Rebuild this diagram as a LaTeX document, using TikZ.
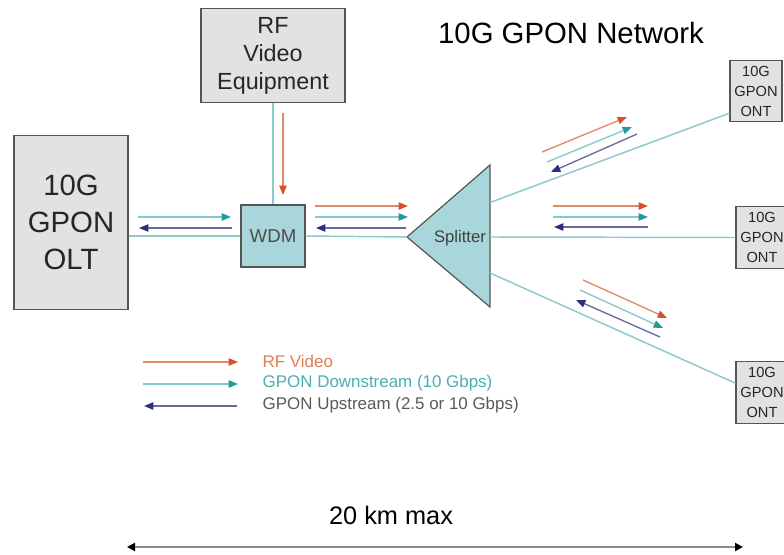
\documentclass[tikz,border=0pt]{standalone}
\usepackage{fontspec}
\setmainfont{Liberation Sans}
\usetikzlibrary{arrows.meta,positioning,calc}

\definecolor{boxgray}{HTML}{E2E2E2}
\definecolor{boxline}{HTML}{555555}
\definecolor{fibre}{HTML}{8CCACE}
\definecolor{wdmfill}{HTML}{A9D6DA}
\definecolor{rfline}{HTML}{E08A6A}
\definecolor{rfhead}{HTML}{D8502A}
\definecolor{dnline}{HTML}{86C9C9}
\definecolor{dnhead}{HTML}{1E9C9C}
\definecolor{upline}{HTML}{6A6AA2}
\definecolor{uphead}{HTML}{2E2E80}
\definecolor{rftext}{HTML}{E07E55}
\definecolor{dntext}{HTML}{4AAEB2}
\definecolor{uptext}{HTML}{5A5A5A}

\begin{document}
\begin{tikzpicture}[x=0.75pt,y=-0.75pt,
  box/.style={draw=boxline,line width=0.9pt,fill=boxgray,inner sep=0pt,
    align=center,text=black!85},
  fiber/.style={draw=fibre,line width=1.1pt},
  rfarrow/.style={draw=rfline,line width=1pt,-{Triangle[length=7pt,width=5.5pt,color=rfhead]}},
  dnarrow/.style={draw=dnline,line width=1pt,-{Triangle[length=7pt,width=5.5pt,color=dnhead]}},
  uparrow/.style={draw=upline,line width=1pt,-{Triangle[length=7pt,width=5.5pt,color=uphead]}},
  ont/.style={box,minimum width=39pt,minimum height=46pt,
    font=\fontsize{11}{15}\selectfont}]
  \useasboundingbox[fill=white] (0,0) rectangle (784,555);

  \node [box,minimum width=85.5pt,minimum height=131pt,
    font=\fontsize{22}{27.5}\selectfont]            (olt) at (71,222.5) {10G\\GPON\\OLT};
  \node [box,minimum width=108pt,minimum height=70pt,
    font=\fontsize{17.5}{21}\selectfont]            (rf)  at (273,55.5) {RF\\Video\\Equipment};
  \node [box,fill=wdmfill,minimum width=48pt,minimum height=46.5pt,
    font=\fontsize{14}{16}\selectfont,text=black!70] (wdm) at (273,236) {WDM};

  % splitter
  \coordinate (sptip) at (407,237);
  \coordinate (sptop) at (490,165);
  \coordinate (spbot) at (490,307);
  \draw [draw=boxline,line width=0.9pt,fill=wdmfill] (sptip) -- (sptop) -- (spbot) -- cycle;
  \node [font=\fontsize{12.5}{14}\selectfont,text=black!75] (spl) at (460,238) {Splitter};

  \node [ont] (ont1) at (756,91)    {10G\\GPON\\ONT};
  \node [ont] (ont2) at (762,237.5) {10G\\GPON\\ONT};
  \node [ont] (ont3) at (762,392.5) {10G\\GPON\\ONT};

  \node [font=\fontsize{22}{26}\selectfont] (title) at (571,33) {10G GPON Network};

  % fibres
  \draw [fiber] (wdm.west) -- (wdm.west -| olt.east);
  \draw [fiber] (rf.south) -- (wdm.north);
  \draw [fiber] (wdm.east) -- (sptip);
  \draw [fiber] ($(sptop)!0.264!(spbot)$) -- ([yshift=6.75pt]ont1.south west);
  \draw [fiber] (spbot |- sptip) -- (ont2.west);
  \draw [fiber] ($(sptop)!0.76!(spbot)$) -- ([yshift=7pt]ont3.west);

  % signal directions
  \draw [rfarrow] (283,113) -- (283,195);
  \draw [dnarrow] (138,217) -- (231,217);
  \draw [uparrow] (232,228) -- (139,228);
  \draw [rfarrow] (315,206) -- (408,206);
  \draw [dnarrow] (315,217) -- (408,217);
  \draw [uparrow] (406,228) -- (316,228);

  \draw [rfarrow] (542,152) -- (627,117);
  \draw [dnarrow] (547,162) -- (632,127);
  \draw [uparrow] (637,134) -- (551,172);

  \draw [rfarrow] (553,206) -- (648,206);
  \draw [dnarrow] (553,217) -- (648,217);
  \draw [uparrow] (648,227) -- (554,227);

  \draw [rfarrow] (583,280) -- (667,318);
  \draw [dnarrow] (580,290) -- (663,328);
  \draw [uparrow] (660,337) -- (576,300);

  % legend
  \draw [rfarrow] (143,362) -- (238,362);
  \draw [dnarrow] (143,384) -- (238,384);
  \draw [uparrow] (237,406) -- (144,406);
  \node [anchor=west,text=rftext,font=\fontsize{12.7}{15}\selectfont] (lrf) at (258,361) {RF Video};
  \node [anchor=west,text=dntext,font=\fontsize{12.7}{15}\selectfont] (ldn) at (258,383) {GPON Downstream (10 Gbps)};
  \node [anchor=west,text=uptext,font=\fontsize{12.7}{15}\selectfont] (lup) at (258,405) {GPON Upstream (2.5 or 10 Gbps)};

  % distance
  \node [font=\fontsize{19}{22}\selectfont] (dist) at (391,515) {20 km max};
  \coordinate (dleft) at (127,547);
  \coordinate (dright) at (743,547);
  \draw [draw=black!45,line width=1.5pt,
    {Triangle[length=6pt,width=6pt,color=black]}-{Triangle[length=6pt,width=6pt,color=black]}]
    (dleft) -- (dright);
\end{tikzpicture}
\end{document}
